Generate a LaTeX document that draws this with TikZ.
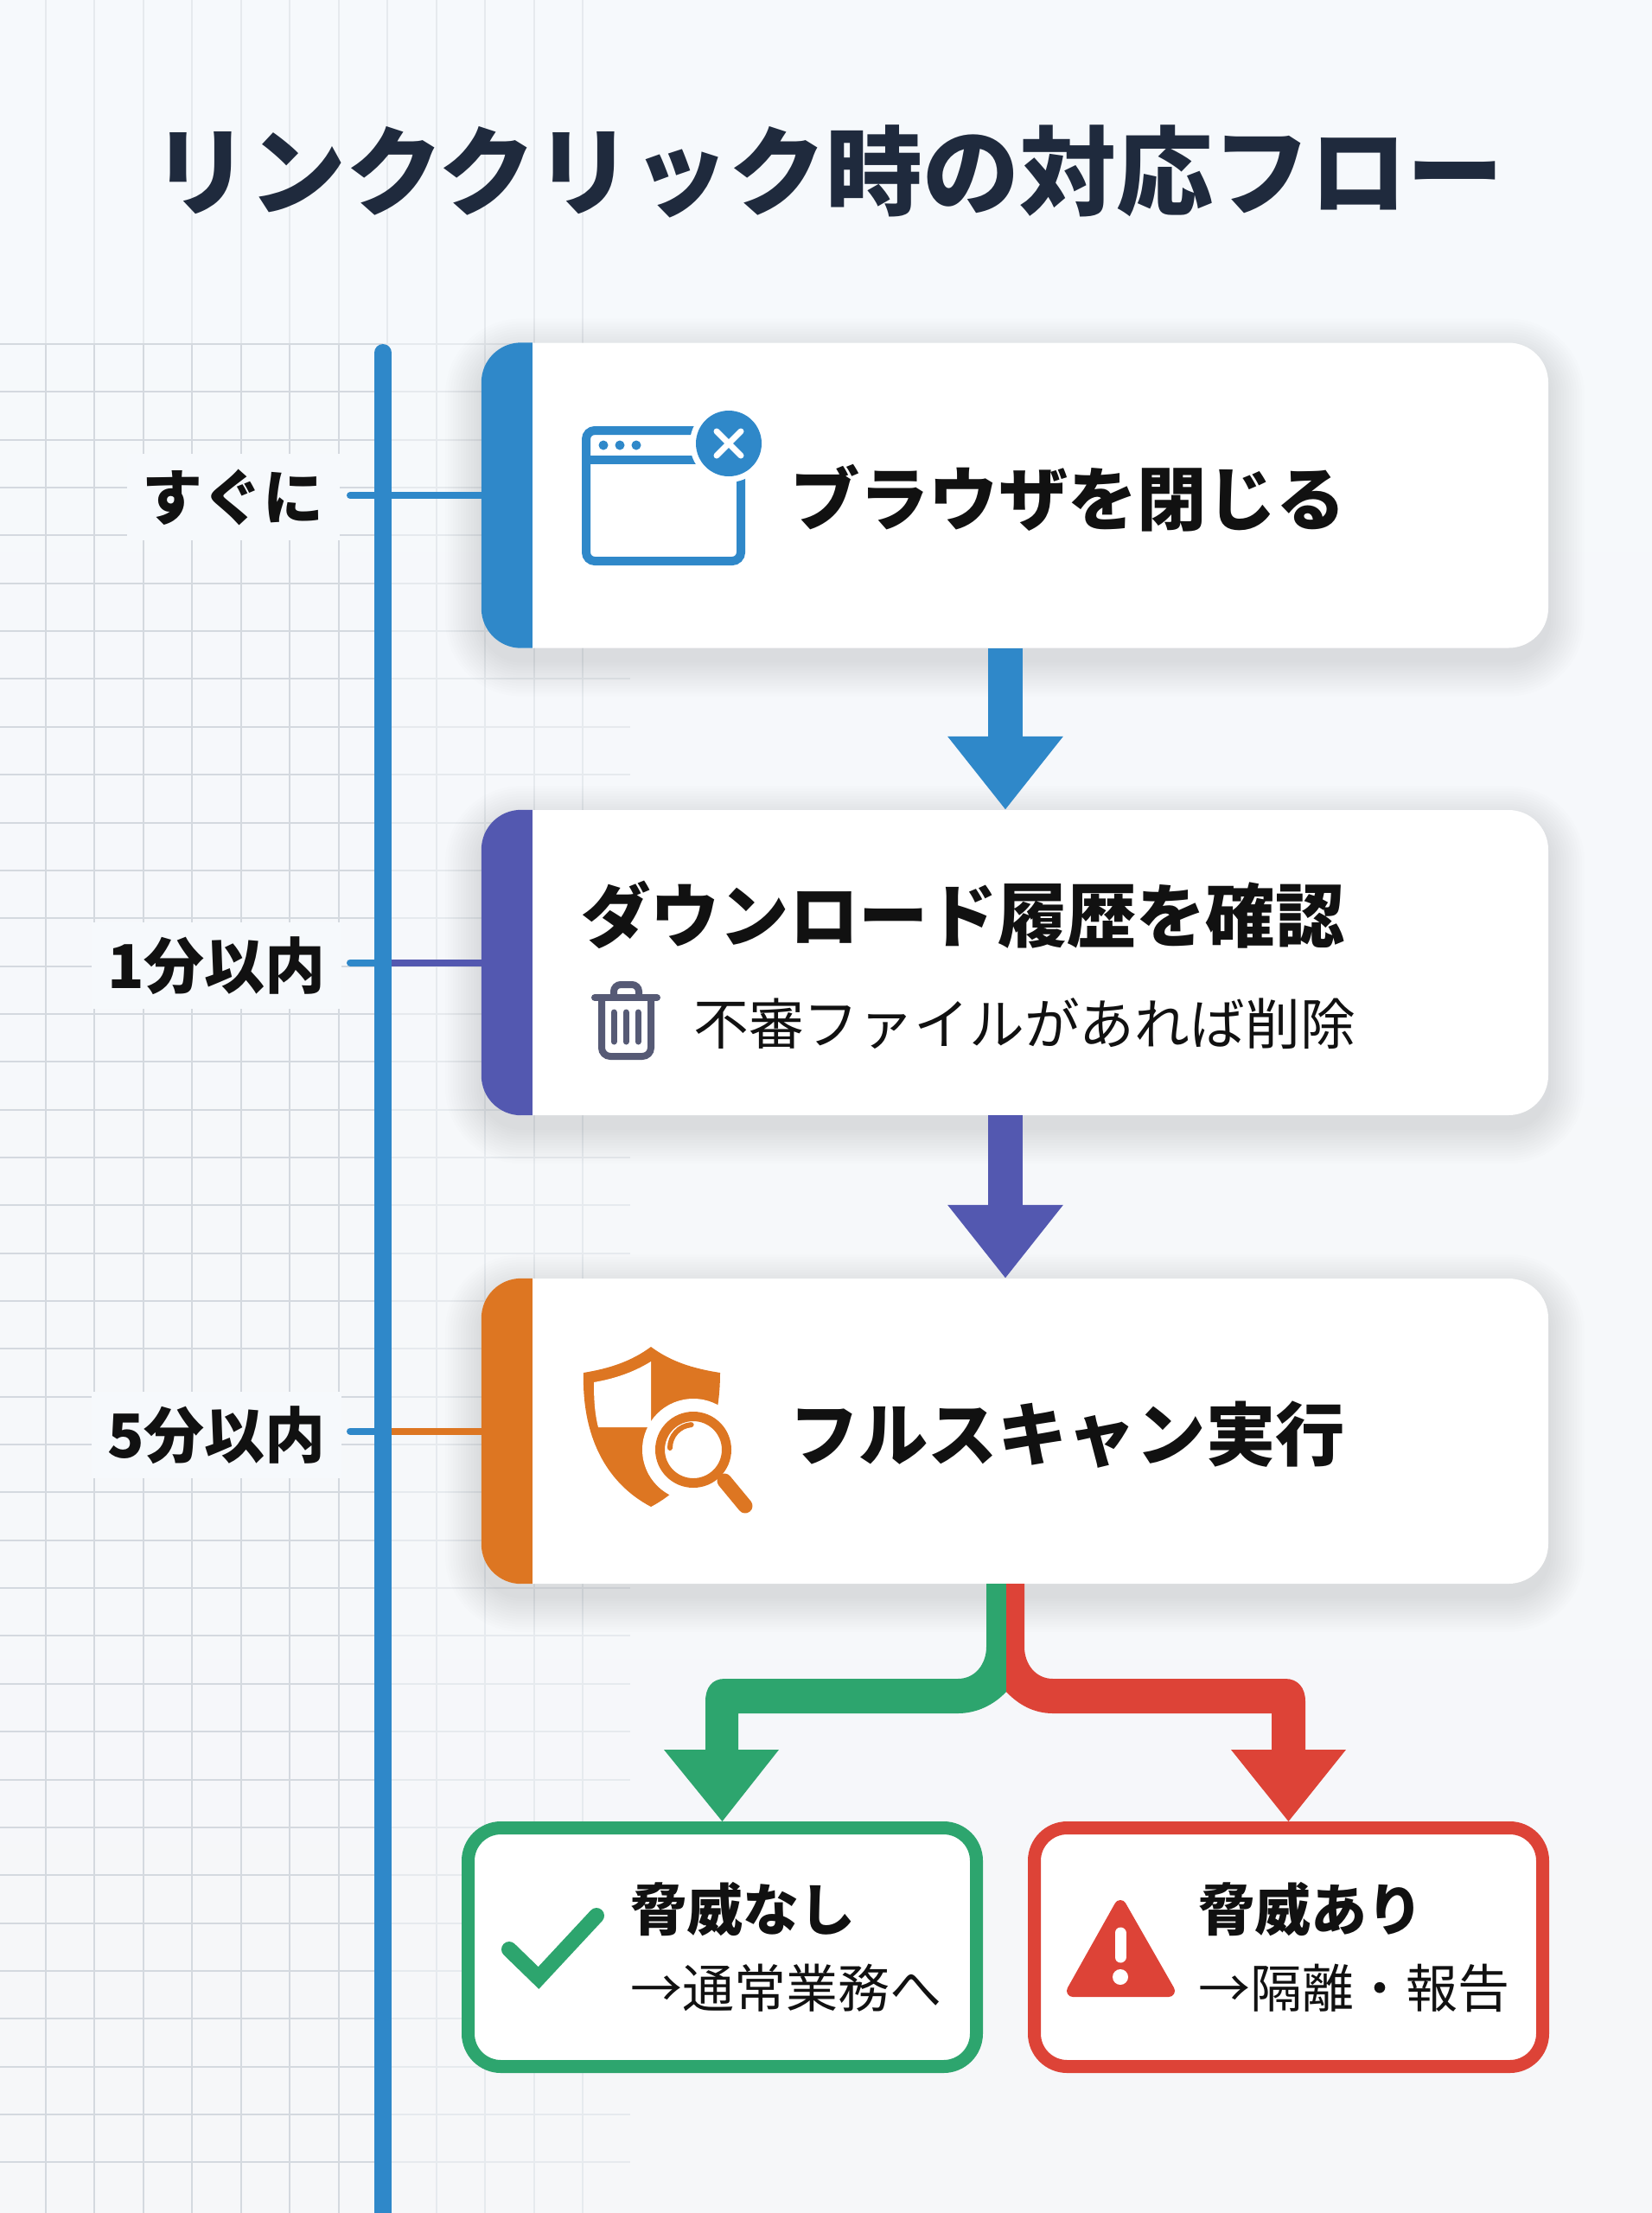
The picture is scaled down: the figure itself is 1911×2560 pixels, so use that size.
\documentclass[tikz,border=0pt]{standalone}
\usepackage{fontspec}
\setmainfont{Noto Sans CJK JP}
\usetikzlibrary{arrows.meta}
\definecolor{pageTop}{HTML}{F6F9FC}
\definecolor{pageEnd}{HTML}{F6F7F9}
\definecolor{gridDark}{HTML}{D4D9DF}
\definecolor{gridPale}{HTML}{E6EAEE}
\definecolor{tlBlue}{HTML}{2F88C9}
\definecolor{tlPurple}{HTML}{5358B0}
\definecolor{tlOrange}{HTML}{DD7622}
\definecolor{okGreen}{HTML}{2DA56E}
\definecolor{badRed}{HTML}{DD4337}
\definecolor{titleInk}{HTML}{1F2A3D}
\definecolor{bodyInk}{HTML}{111111}
\definecolor{trashInk}{HTML}{565A75}
\begin{document}
\begin{tikzpicture}[x=1pt, y=-1pt,
        titleStyle/.style={anchor=base, text=titleInk, font=\bfseries\fontsize{112}{112}\selectfont},
        tagStyle/.style={anchor=east, fill=pageTop, inner xsep=18pt, inner ysep=0pt, minimum height=100pt, text=bodyInk, font=\bfseries\fontsize{70}{70}\selectfont},
        cardStyle/.style={rectangle, fill=white, rounded corners=46pt, minimum width=1234pt, minimum height=353pt, inner sep=0pt},
        headStyle/.style={anchor=base west, inner sep=0pt, text=bodyInk, font=\bfseries\fontsize{80.3}{80}\selectfont},
        subStyle/.style={anchor=base west, inner sep=0pt, text=bodyInk, font=\fontsize{63.8}{64}\selectfont},
        endStyle/.style={rectangle, fill=white, line width=15pt, rounded corners=38pt, minimum width=588pt, minimum height=276pt},
        endHead/.style={anchor=base west, inner sep=0pt, text=bodyInk, font=\bfseries\fontsize{65}{65}\selectfont},
        endBody/.style={anchor=base west, inner sep=0pt, text=bodyInk, font=\fontsize{60}{60}\selectfont},
        tickStyle/.style={line width=8pt},
        flowStyle/.style={line width=40pt, -{Triangle[length=85pt, width=128pt]}}]
    \useasboundingbox (0,0) rectangle (1911,2560);
    \shade[top color=pageTop, bottom color=pageEnd] (0,0) rectangle (1911,2560);

    % grid
    \foreach \k in {0,...,7} {
        \draw[gridPale, line width=2pt] ({52.5+56.5*\k},0) -- ({52.5+56.5*\k},398);
        \draw[gridDark, line width=2pt] ({52.5+56.5*\k},398) -- ({52.5+56.5*\k},2560);
    }
    \foreach \k in {8,...,11} {
        \draw[gridPale, line width=2pt] ({52.5+56.5*\k},0) -- ({52.5+56.5*\k},2560);
    }
    \foreach \k in {0,...,38} {
        \draw[gridDark, line width=2pt] (0,{398+55.35*\k}) -- (443,{398+55.35*\k});
        \draw[gridPale, line width=2pt] (443,{398+55.35*\k}) -- (729,{398+55.35*\k});
    }

    % time labels
    \node[tagStyle] (tag1) at (393, 575) {すぐに};
    \node[tagStyle] (tag2) at (395,1117) {1分以内};
    \node[tagStyle] (tag3) at (395,1660) {5分以内};
    \foreach \t/\cy in {tag1/573, tag2/1113.5, tag3/1655.5} {
        \draw[tlBlue, tickStyle, line cap=round] (405,\cy) -- (443,\cy);
    }

    % timeline
    \coordinate (tlTop) at (443,408);
    \coordinate (tlEnd) at (443,2580);
    \draw[tlBlue, line width=20pt, line cap=round] (tlTop) -- (tlEnd);

    % cards
    \foreach \n/\cy/\c in {card1/573/tlBlue, card2/1113.5/tlPurple, card3/1655.5/tlOrange} {
        \foreach \d in {3,6,...,42} {
            \fill[titleInk, opacity=0.006, rounded corners={46pt+\d pt}]
                ({557-\d},{\cy-176.5-\d+14}) rectangle ({1791+\d},{\cy+176.5+\d+14});
        }
        \node[cardStyle] (\n) at (1174,\cy) {};
        \fill[\c] ([xshift=59pt]\n.north west) -- ([xshift=46pt]\n.north west)
            arc[start angle=90, end angle=180, radius=46pt] -- ([yshift=46pt]\n.south west)
            arc[start angle=180, end angle=270, radius=46pt] -- ([xshift=59pt]\n.south west) -- cycle;
        \draw[\c, tickStyle] (453,\cy) -- (\n.west);
    }

    % card texts
    \node[headStyle] (head1) at (914, 607) {ブラウザを閉じる};
    \node[headStyle] (head2) at (672,1089) {ダウンロード履歴を確認};
    \node[subStyle]  (sub2)  at (802,1208) {不審ファイルがあれば削除};
    \node[headStyle] (head3) at (913,1689) {フルスキャン実行};

    % flow arrows
    \draw[tlBlue, flowStyle] ([xshift=-11pt]card1.south) -- ([xshift=-11pt]card2.north);
    \draw[tlPurple, flowStyle] ([xshift=-11pt]card2.south) -- ([xshift=-11pt]card3.north);

    % result boxes
    \node[endStyle, draw=okGreen] (okBox) at (835.5,2252.5) {};
    \node[endStyle, draw=badRed] (badBox) at (1490.5,2252.5) {};
    \node[endHead] (okHead) at (729,2233) {脅威なし};
    \node[endBody] (okBody) at (729,2322) {→通常業務へ};
    \node[endHead] (badHead) at (1386,2233) {脅威あり};
    \node[endBody] (badBody) at (1386,2322) {→隔離・報告};

    % branch
    \coordinate (split) at ([xshift=-10pt]card3.south);
    \fill[okGreen] (split) -- ([xshift=-23pt]split) -- (1141,1905) .. controls (1141,1925) and (1128,1942) .. (1108,1942)
        -- (838,1942) .. controls (824,1942) and (816,1952) .. (816,1968) -- (816,2024) -- (768,2024) -- (okBox.north)
        -- (901,2024) -- (854,2024) -- (854,1982) -- (1108,1982) .. controls (1130,1982) and (1150,1972) .. (1164,1957) -- cycle;
    \fill[badRed] (split) -- ([xshift=21pt]split) -- (1185,1905) .. controls (1185,1925) and (1198,1942) .. (1218,1942)
        -- (1487,1942) .. controls (1501,1942) and (1510,1952) .. (1510,1968) -- (1510,2024) -- (1557,2024) -- (badBox.north)
        -- (1424,2024) -- (1471,2024) -- (1471,1982) -- (1218,1982) .. controls (1196,1982) and (1178,1972) .. (1164,1957) -- cycle;

    % browser icon
    \draw[tlBlue, line width=10pt, rounded corners=10pt] (678,498) rectangle (857,649);
    \draw[tlBlue, line width=10pt] (678,532) -- (857,532);
    \foreach \x in {698,717,736} {
        \fill[tlBlue] (\x,515) circle[radius=5.5pt];
    }
    \fill[white] (843,513) circle[radius=45pt];
    \fill[tlBlue] (843,513) circle[radius=38pt];
    \draw[white, line width=7pt, line cap=round] (829,499) -- (857,527) (857,499) -- (829,527);

    % trash icon
    \draw[trashInk, line width=8pt, line cap=round] (688,1154) -- (760,1154);
    \draw[trashInk, line width=8pt, rounded corners=8pt] (710,1154) -- (710,1139) -- (739,1139) -- (739,1154);
    \draw[trashInk, line width=8pt, rounded corners=10pt] (696,1154) -- (696,1222) -- (753,1222) -- (753,1154);
    \foreach \x in {710,724,738} {
        \draw[trashInk, line width=7pt, line cap=round] (\x,1171) -- (\x,1205);
    }

    % shield icon
    \fill[tlOrange] (753,1558) .. controls (730,1575) and (705,1583) .. (675,1588)
        .. controls (673,1660) and (700,1715) .. (753,1743) .. controls (806,1715) and (833,1660) .. (833,1588)
        .. controls (801,1583) and (776,1575) .. (753,1558) -- cycle;
    \fill[white] (753,1575) .. controls (732,1588) and (710,1595) .. (687,1599)
        .. controls (687,1620) and (688,1635) .. (692,1651) -- (753,1651) -- cycle;
    \fill[white] (802,1677) circle[radius=59pt];
    \draw[tlOrange, line width=11pt] (802,1677) circle[radius=38.5pt];
    \draw[tlOrange, line width=17pt, line cap=round] (838,1713) -- (862,1742);
    \draw[tlOrange, line width=6pt, line cap=round] (775,1675) arc[start angle=180, end angle=95, radius=27pt];

    % check and warning icons
    \draw[okGreen, line width=18pt, line cap=round] (589,2255) -- (623,2288) -- (690,2216);
    \fill[badRed, draw=badRed, line width=14pt, line join=round] (1296,2205) -- (1241,2303) -- (1352,2303) -- cycle;
    \draw[white, line width=13pt, line cap=round] (1296,2236) -- (1296,2264);
    \fill[white] (1296,2287) circle[radius=9pt];

    % title
    \node[titleStyle] (title) at (958,240) {リンククリック時の対応フロー};
\end{tikzpicture}
\end{document}
